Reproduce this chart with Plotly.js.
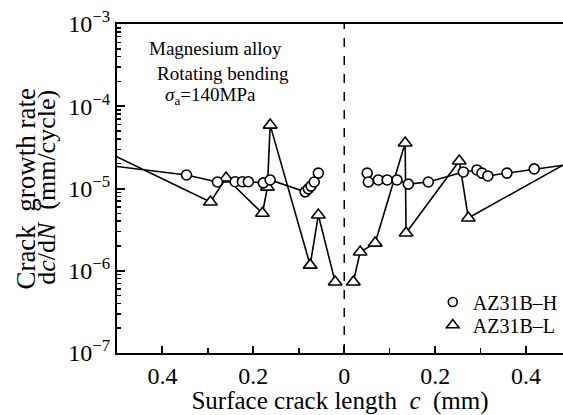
<!DOCTYPE html>
<html><head><meta charset="utf-8">
<script src="https://cdn.plot.ly/plotly-3.0.1.min.js"></script>
<style>html,body{margin:0;padding:0;overflow:hidden;background:#fff}</style>
</head><body><div id="chart" style="width:563px;height:415px"></div>
<script>
// Surface crack length c (mm), left-hand and right-hand crack tips
const hLeftC    = [0.55, 0.347, 0.279, 0.240, 0.224, 0.211, 0.178, 0.163, 0.086, 0.079, 0.073, 0.066, 0.057];
const hLeftRate = [2.0e-5, 1.46e-5, 1.20e-5, 1.21e-5, 1.21e-5, 1.21e-5, 1.17e-5, 1.27e-5, 9.1e-6, 9.9e-6, 1.07e-5, 1.20e-5, 1.54e-5];
const hRightC    = [0.0505, 0.053, 0.075, 0.0945, 0.116, 0.141, 0.185, 0.262, 0.292, 0.303, 0.316, 0.358, 0.418, 0.55];
const hRightRate = [1.54e-5, 1.20e-5, 1.27e-5, 1.27e-5, 1.27e-5, 1.13e-5, 1.20e-5, 1.59e-5, 1.68e-5, 1.54e-5, 1.42e-5, 1.54e-5, 1.73e-5, 2.16e-5];
const lLeftC    = [0.55, 0.2945, 0.260, 0.180, 0.169, 0.163, 0.075, 0.057, 0.020];
const lLeftRate = [3.3e-5, 6.85e-6, 1.34e-5, 5.0e-6, 1.04e-5, 5.9e-5, 1.17e-6, 4.76e-6, 7.3e-7];
const lRightC    = [0.020, 0.035, 0.068, 0.134, 0.136, 0.253, 0.273, 0.55];
const lRightRate = [7.3e-7, 1.69e-6, 2.17e-6, 3.57e-5, 2.88e-6, 2.16e-5, 4.38e-6, 3.14e-5];
const seriesNames = ['AZ31B\u2013H', 'AZ31B\u2013L'];
const xTickVals = [-0.4, -0.2, 0, 0.2, 0.4];
const xTickText = ['0.4', '0.2', '0', '0.2', '0.4'];
const yTickVals = [1e-7, 1e-6, 1e-5, 1e-4, 1e-3];
const yTickText = ['10<sup>\u22127</sup>', '10<sup>\u22126</sup>', '10<sup>\u22125</sup>', '10<sup>\u22124</sup>', '10<sup>\u22123</sup>'];

const FONT = 'Liberation Serif, Times New Roman, serif';
function join(lc, lr, rc, rr) {
  return {
    x: lc.map(c => -c).concat([null], rc),
    y: lr.concat([null], rr)
  };
}
const H = join(hLeftC, hLeftRate, hRightC, hRightRate);
const L = join(lLeftC, lLeftRate, lRightC, lRightRate);

// minor log ticks 2..9 in each decade
const yMinor = [];
for (let e = -7; e < -3; e++) for (let m = 2; m <= 9; m++) yMinor.push(m * Math.pow(10, e));

const traces = [
  {x: L.x, y: L.y, mode: 'lines+markers', showlegend: false, connectgaps: false,
   line: {color: '#000', width: 1.6},
   marker: {symbol: 'triangle-up', size: 12, color: '#fff', line: {color: '#000', width: 1.6}}},
  {x: H.x, y: H.y, mode: 'lines+markers', showlegend: false, connectgaps: false,
   line: {color: '#000', width: 1.6},
   marker: {symbol: 'circle', size: 10, color: '#fff', line: {color: '#000', width: 1.6}}},
  {x: [null], y: [null], mode: 'markers', name: seriesNames[0], legend: 'legend',
   marker: {symbol: 'circle', size: 9, color: '#fff', line: {color: '#000', width: 1.6}}},
  {x: [null], y: [null], mode: 'markers', name: seriesNames[1], legend: 'legend2',
   marker: {symbol: 'triangle-up', size: 11, color: '#fff', line: {color: '#000', width: 1.6}}}
];

const legendBase = {xanchor: 'left', yanchor: 'middle', bgcolor: 'rgba(0,0,0,0)',
                    font: {family: FONT, size: 20}, borderwidth: 0};
const layout = {
  width: 563, height: 415,
  margin: {l: 117, r: 0, t: 24, b: 62},
  paper_bgcolor: '#fff', plot_bgcolor: '#fff',
  font: {family: FONT, color: '#000', size: 20},
  showlegend: true,
  legend: Object.assign({x: 0.708, y: (353 - 302) / 329}, legendBase),
  legend2: Object.assign({x: 0.708, y: (353 - 325) / 329}, legendBase),
  xaxis: {
    range: [-0.5, 0.4813], showgrid: false, zeroline: false,
    showline: true, linecolor: '#000', linewidth: 2, mirror: true,
    ticks: 'inside', ticklen: 7, tickwidth: 2, tickcolor: '#000',
    tickmode: 'array', tickvals: xTickVals, ticktext: xTickText,
    tickfont: {family: FONT, size: 24},
    minor: {ticks: 'inside', ticklen: 5, tickwidth: 1.5, tickmode: 'array',
            tickvals: [-0.3, -0.1, 0.1, 0.3], tickcolor: '#000', showgrid: false},
    title: {text: 'Surface crack length  <i>c</i>  (mm)', font: {family: FONT, size: 25}, standoff: 6}
  },
  yaxis: {
    type: 'log', range: [-7, -3],
    showgrid: false, zeroline: false,
    showline: true, linecolor: '#000', linewidth: 2, mirror: false,
    ticks: 'inside', ticklen: 8, tickwidth: 2, tickcolor: '#000',
    tickmode: 'array', tickvals: yTickVals, ticktext: yTickText,
    tickfont: {family: FONT, size: 24},
    minor: {ticks: 'inside', ticklen: 4, tickwidth: 1.5, tickmode: 'array', tickvals: yMinor, tickcolor: '#000', showgrid: false}
  },
  shapes: [
    {type: 'line', xref: 'x', yref: 'paper', x0: 0, x1: 0, y0: 0, y1: 1,
     line: {color: '#000', width: 1.5, dash: 'dash'}}
  ],
  annotations: [
    {text: 'Crack  growth rate', xref: 'paper', yref: 'paper', x: -0.206, y: 0.5,
     textangle: -90, showarrow: false, xanchor: 'center', yanchor: 'middle', font: {family: FONT, size: 27}},
    {text: 'd<i>c</i>/d<i>N</i>  (mm/cycle)', xref: 'paper', yref: 'paper', x: -0.157, y: 0.505,
     textangle: -90, showarrow: false, xanchor: 'center', yanchor: 'middle', font: {family: FONT, size: 26}},
    {text: 'Magnesium alloy', xref: 'paper', yref: 'paper', x: 0.067, y: 0.925,
     showarrow: false, xanchor: 'left', yanchor: 'middle', font: {family: FONT, size: 19}},
    {text: 'Rotating bending', xref: 'paper', yref: 'paper', x: 0.085, y: 0.85,
     showarrow: false, xanchor: 'left', yanchor: 'middle', font: {family: FONT, size: 19}},
    {text: '<i>\u03c3</i><sub>a</sub>=140MPa', xref: 'paper', yref: 'paper', x: 0.103, y: 0.78,
     showarrow: false, xanchor: 'left', yanchor: 'middle', font: {family: FONT, size: 19}}
  ]
};

Plotly.newPlot('chart', traces, layout, {displayModeBar: false, staticPlot: true});
</script>
</body></html>
